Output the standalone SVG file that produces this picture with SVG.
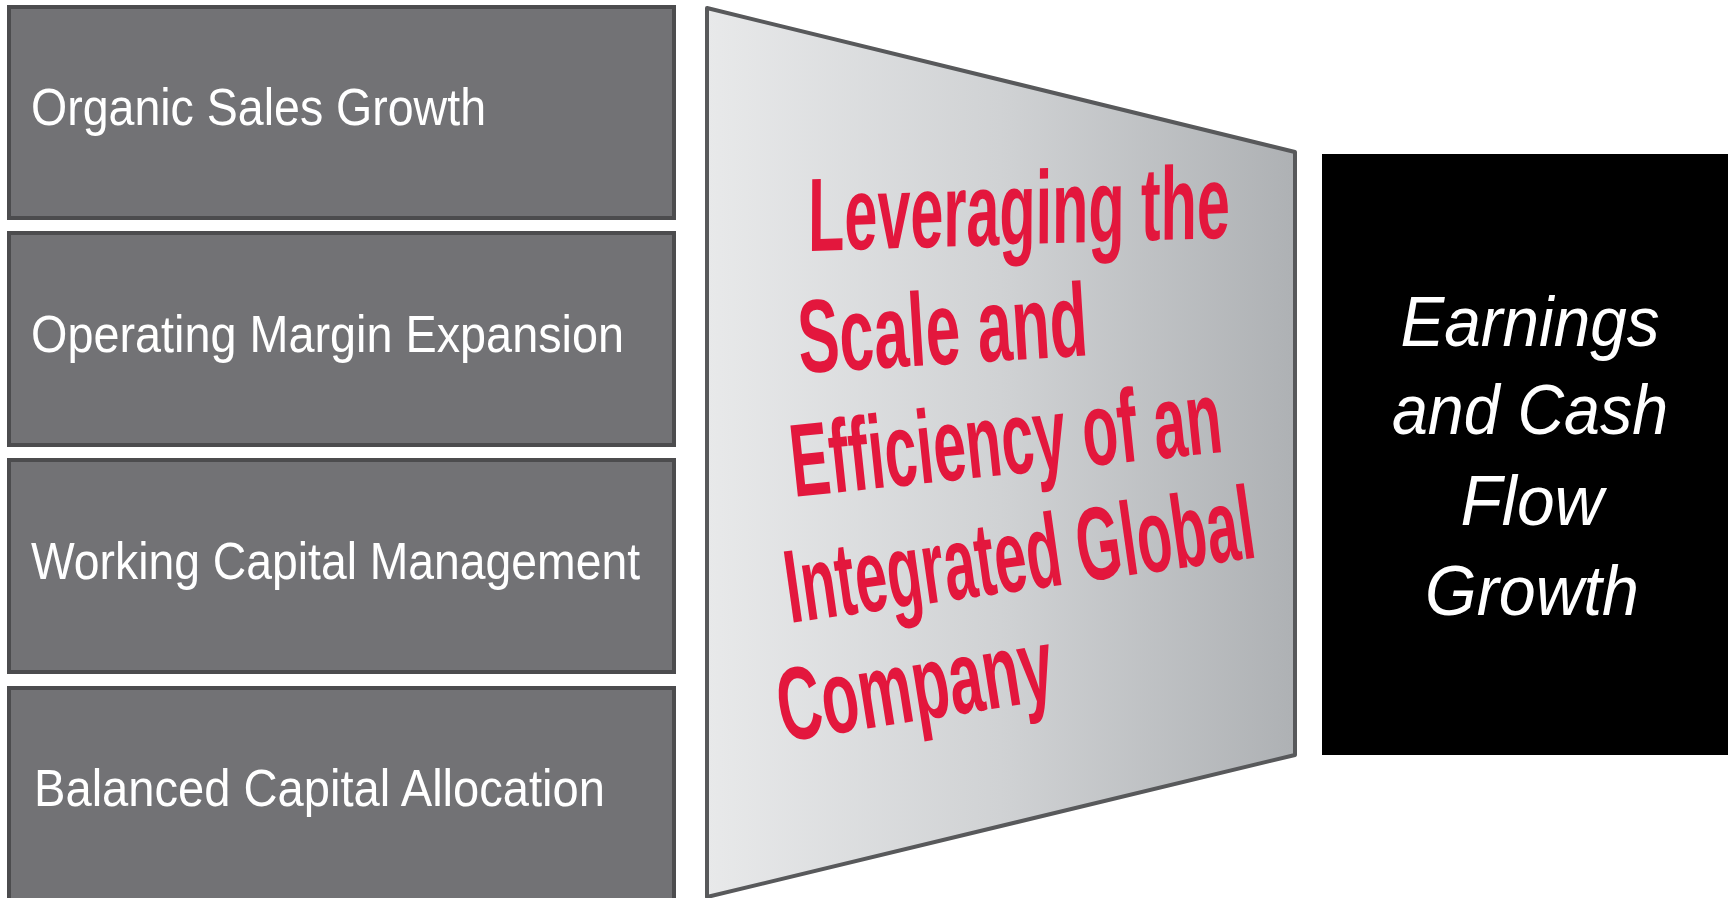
<svg xmlns="http://www.w3.org/2000/svg" width="1728" height="898" viewBox="0 0 1728 898">
<style>
.box{fill:#727275;stroke:#4c4c4e;stroke-width:4}
.lt{font-family:"Liberation Sans",Arial,sans-serif;font-size:52px;fill:#ffffff}
.rt{font-family:"Liberation Sans",Arial,sans-serif;font-weight:bold;font-size:104px;fill:#e3173d}
.wt{font-family:"Liberation Sans",Arial,sans-serif;font-style:italic;font-size:70px;fill:#ffffff;text-anchor:middle}
</style>
<defs>
<linearGradient id="g" gradientUnits="userSpaceOnUse" x1="707" y1="0" x2="1295" y2="0">
<stop offset="0" stop-color="#e8e9ea"/>
<stop offset="0.5" stop-color="#d0d2d4"/>
<stop offset="1" stop-color="#aeb1b4"/>
</linearGradient>
</defs>
<rect width="1728" height="898" fill="#ffffff"/>
<g id="connectors"></g>
<g id="n1"><rect class="box" x="9" y="7" width="665" height="211"/><text class="lt" x="31" y="125" textLength="455" lengthAdjust="spacingAndGlyphs">Organic Sales Growth</text></g>
<g id="n2"><rect class="box" x="9" y="233" width="665" height="212"/><text class="lt" x="31" y="352" textLength="593" lengthAdjust="spacingAndGlyphs">Operating Margin Expansion</text></g>
<g id="n3"><rect class="box" x="9" y="460" width="665" height="212"/><text class="lt" x="31" y="579" textLength="609" lengthAdjust="spacingAndGlyphs">Working Capital Management</text></g>
<g id="n4"><rect class="box" x="9" y="688" width="665" height="220"/><text class="lt" x="34" y="806" textLength="571" lengthAdjust="spacingAndGlyphs">Balanced Capital Allocation</text></g>
<g id="center">
<polygon points="707,8 1295,152 1295,755 707,897" fill="url(#g)" stroke="#58595b" stroke-width="4" stroke-linejoin="round"/>
<text class="rt" transform="translate(808,251) rotate(-1.8) skewX(-2)" textLength="422" lengthAdjust="spacingAndGlyphs">Leveraging the</text>
<text class="rt" transform="translate(800,373) rotate(-3.5)" textLength="290" lengthAdjust="spacingAndGlyphs">Scale and</text>
<text class="rt" transform="translate(794,497) rotate(-6)" textLength="433" lengthAdjust="spacingAndGlyphs">Efficiency of an</text>
<text class="rt" transform="translate(790,623) rotate(-8)" textLength="473" lengthAdjust="spacingAndGlyphs">Integrated Global</text>
<text class="rt" transform="translate(783,742) rotate(-9)" textLength="278" lengthAdjust="spacingAndGlyphs">Company</text>
</g>
<g id="result">
<rect x="1322" y="154" width="406" height="601" fill="#000000"/>
<text class="wt" x="1530" y="346" textLength="259" lengthAdjust="spacingAndGlyphs">Earnings</text>
<text class="wt" x="1530" y="434" textLength="276" lengthAdjust="spacingAndGlyphs">and Cash</text>
<text class="wt" x="1532" y="525" textLength="143" lengthAdjust="spacingAndGlyphs">Flow</text>
<text class="wt" x="1532" y="615" textLength="214" lengthAdjust="spacingAndGlyphs">Growth</text>
</g>
</svg>
